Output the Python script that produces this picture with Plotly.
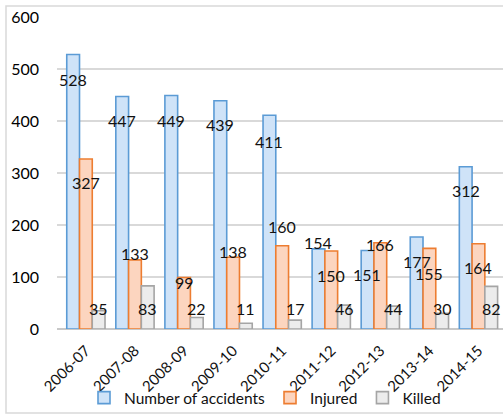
import plotly.graph_objects as go

years = ["2006-07", "2007-08", "2008-09", "2009-10", "2010-11",
         "2011-12", "2012-13", "2013-14", "2014-15"]
accidents = [528, 447, 449, 439, 411, 154, 151, 177, 312]
injured = [327, 133, 99, 138, 160, 150, 166, 155, 164]
killed = [35, 83, 22, 11, 17, 46, 44, 30, 82]

# label vertical offsets (px) relative to bar top (style only)
acc_shift = [-25, -24, -25, -24, -26, 6, -24, -25, -24]
inj_shift = [-24, 6, -5, 6, 19, -24, -2, -25, -24]
kill_base_shift = 21

series = [
    ("Number of accidents", accidents, "#cfe3f8", "#5b9bd5"),
    ("Injured", injured, "#fcd5bf", "#ed7d31"),
    ("Killed", killed, "#ececec", "#a5a5a5"),
]

fig = go.Figure()
for name, vals, fill, line in series:
    fig.add_trace(go.Bar(
        x=years, y=vals, name=name,
        marker=dict(color=fill, line=dict(color=line, width=1.6)),
    ))

W, H = 503, 417
L, R, T, B = 57, 0, 17, 88
plot_w = W - L - R
cat_w = plot_w / len(years)
bargap = 0.22
bar_w = cat_w * (1 - bargap) / 3
offsets = [-bar_w, 0, bar_w]

font_fam = "Lato, 'Liberation Sans', sans-serif"
ann = []
for i, y in enumerate(years):
    ann.append(dict(x=y, y=accidents[i], text=str(accidents[i]), showarrow=False,
                    xshift=offsets[0], yshift=acc_shift[i], yanchor="middle"))
    ann.append(dict(x=y, y=injured[i], text=str(injured[i]), showarrow=False,
                    xshift=offsets[1], yshift=inj_shift[i], yanchor="middle"))
    ann.append(dict(x=y, y=0, text=str(killed[i]), showarrow=False,
                    xshift=offsets[2], yshift=kill_base_shift, yanchor="middle"))
for a in ann:
    a["font"] = dict(family=font_fam, size=16, color="#111111")

plot_h = H - T - B
fig.update_layout(
    width=W, height=H,
    margin=dict(l=L, r=R, t=T, b=B, pad=0),
    paper_bgcolor="white", plot_bgcolor="white",
    barmode="group", bargap=bargap, bargroupgap=0,
    font=dict(family=font_fam, size=14, color="#111111"),
    annotations=ann,
    showlegend=True,
    legend=dict(orientation="h", x=(265 - L) / plot_w, xanchor="center",
                y=(329 - 398) / plot_h, yanchor="middle",
                font=dict(size=15.5), itemwidth=30, tracegroupgap=0,
                bgcolor="rgba(0,0,0,0)"),
    xaxis=dict(type="category", tickangle=-45, showgrid=False, showline=False,
               ticks="", tickfont=dict(size=15), ticklabelstandoff=9),
    yaxis=dict(range=[0, 600], dtick=100, showgrid=True, gridcolor="#d9d9d9",
               gridwidth=1.5, zeroline=True, zerolinecolor="#c8c8c8",
               zerolinewidth=1.5, showline=False, ticks="",
               ticklabelstandoff=17, tickfont=dict(size=16, color="#000000")),
    shapes=[dict(type="rect", xref="paper", yref="paper",
                 x0=(6 - L) / plot_w, x1=1.02,
                 y0=(329 - 413) / plot_h, y1=(329 - 6) / plot_h,
                 line=dict(color="#d9d9d9", width=1.5), layer="below")],
)

fig.write_html("out.html")
